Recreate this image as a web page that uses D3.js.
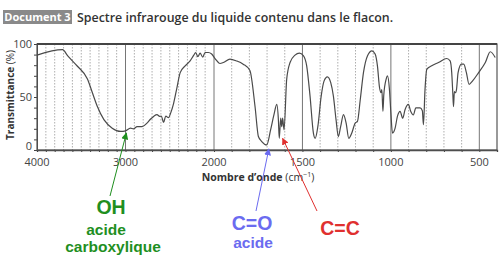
<!DOCTYPE html>
<html>
<head>
<meta charset="utf-8">
<script src="https://cdn.jsdelivr.net/npm/d3@7/dist/d3.min.js"></script>
<style>
  body { margin: 0; background: #fff; }
  svg { display: block; }
</style>
</head>
<body>
<svg id="spectre"></svg>
<script>
// spectre IR : nombre d'onde (cm-1) / transmittance (%)
var waves = [4000,3711,3655,3543,3430,3374,3318,3244,3150,3056,3000,2944,2910,2869,2813,2757,2719,2682,2644,2614,2595,2570,2545,2515,2487,2457,2419,2382,2326,2270,2232,2206,2183,2157,2127,2101,2064,2026,1994,1966,1947,1910,1872,1835,1797,1768,1749,1730,1702,1680,1661,1645,1636,1631,1623,1617,1612,1604,1589,1570,1542,1517,1495,1476,1457,1438,1428,1413,1394,1378,1359,1340,1325,1310,1297,1284,1268,1253,1238,1221,1202,1189,1173,1155,1132,1107,1089,1076,1064,1056,1051,1045,1040,1027,1019,1008,1000,991,976,963,948,933,920,901,888,873,859,835,822,816,807,797,769,731,684,665,656,650,646,641,635,629,620,601,588,573,558,539,504,466,438,410];
var trans = [89.5,94.6,89,79,67,54,41,28.6,20.6,17.5,18,20.6,20,22,22,25.4,29,31.7,33.3,31.7,32,26,32,30.5,35.5,43.8,58.7,73,79.4,84,89,92,88,91.4,87.6,92,92,90.5,86.3,81.6,82.5,85.7,84,81,75,41,12.7,8,4.8,19,33.3,43,28.6,11,30,22,30,19,66.7,82.5,89.5,91.4,89,79.4,50.8,15.9,11,22,50.8,65,69,63.5,50.8,28.6,12.7,22,33.3,25.4,11,16,25.4,27,47.6,73,89,93.6,90.5,79.4,58.7,54,57,36.5,52,66.7,70,57,35,16,20.6,31.7,36.5,30,38,43,36.5,33,39.7,39.7,37,23.8,57,76,79.4,82.5,86.3,84,73,54,41,55,54,57,73,81,81,73,62,65,73,82.5,92.7,87.3];

var xTickLabels = [4000, 3000, 2000, 1500, 1000, 500];
var yTickLabels = [0, 50, 100];

// annotations : texte, nombre d'onde pointe, transmittance pointee
var annotLabels = ["OH", "C=O", "C=C"];
var annotSub = [["acide", "carboxylique"], ["acide"], []];
var annotWave = [2990, 1690, 1612];
var annotTrans = [16, 1, 11];

var W = 503, H = 263;
var plot = {left: 37, right: 497, top: 44, bottom: 150};

var svg = d3.select("#spectre").attr("width", W).attr("height", H);

// echelle en deux parties (changement a 2000 cm-1)
var xScale = d3.scaleLinear()
  .domain([4000, 2000, 400])
  .range([plot.left, 214, plot.right]);
var yScale = d3.scaleLinear()
  .domain([0, 100])
  .range([plot.bottom, plot.top]);

// titre
svg.append("rect")
  .attr("x", 3).attr("y", 10).attr("width", 69).attr("height", 14)
  .attr("fill", "#8a8a8a");
svg.append("text")
  .attr("x", 37.5).attr("y", 21)
  .attr("text-anchor", "middle")
  .attr("font-family", "Open Sans").attr("font-weight", 700)
  .attr("font-size", 11).attr("fill", "#fff")
  .text("Document 3");
svg.append("text")
  .attr("x", 77).attr("y", 22)
  .attr("font-family", "Open Sans").attr("font-weight", 600)
  .attr("font-size", 12.4).attr("fill", "#333")
  .text("Spectre infrarouge du liquide contenu dans le flacon.");

// grille verticale
var gridWaves = d3.range(3900, 400, -100);
var isMain = function(d){ return d % 1000 == 0 || (d < 2000 && d % 500 == 0); };
svg.append("g").selectAll("line")
  .data(gridWaves)
  .enter()
  .append("line")
  .attr("x1", function(d){ return xScale(d); })
  .attr("x2", function(d){ return xScale(d); })
  .attr("y1", plot.top).attr("y2", plot.bottom)
  .attr("stroke", function(d){ return isMain(d) ? "#666" : "#999"; })
  .attr("stroke-width", function(d){ return isMain(d) ? 0.9 : 0.8; })
  .attr("stroke-dasharray", function(d){ return isMain(d) ? null : "1.5,1.5"; });

// axes
var xAxis = d3.axisBottom(xScale)
  .tickValues(d3.range(4000, 399, -100))
  .tickSize(2)
  .tickFormat("");
svg.append("g")
  .attr("transform", "translate(0," + plot.bottom + ")")
  .call(xAxis)
  .call(function(g){ g.select(".domain").attr("stroke", "#444").attr("stroke-width", 1.3); g.selectAll(".tick line").attr("stroke", "#444"); });

var yAxis = d3.axisLeft(yScale)
  .tickValues(d3.range(0, 101, 10))
  .tickSize(3)
  .tickFormat("");
svg.append("g")
  .attr("transform", "translate(" + plot.left + ",0)")
  .call(yAxis)
  .call(function(g){ g.select(".domain").attr("stroke", "#444"); g.selectAll(".tick line").attr("stroke", "#444"); });

// cadre
svg.append("rect")
  .attr("x", plot.left).attr("y", plot.top)
  .attr("width", plot.right - plot.left).attr("height", plot.bottom - plot.top)
  .attr("fill", "none").attr("stroke", "#555").attr("stroke-width", 1.2);
svg.append("line")
  .attr("x1", plot.left).attr("x2", plot.right)
  .attr("y1", plot.top).attr("y2", plot.top)
  .attr("stroke", "#444").attr("stroke-width", 1.8);

// etiquettes des axes
svg.append("g").selectAll("text")
  .data(xTickLabels)
  .enter()
  .append("text")
  .attr("x", function(d){ return xScale(d); })
  .attr("y", 166)
  .attr("text-anchor", "middle")
  .attr("font-family", "Open Sans").attr("font-size", 11).attr("fill", "#444")
  .text(function(d){ return d; });

svg.append("g").selectAll("text")
  .data(yTickLabels)
  .enter()
  .append("text")
  .attr("x", 32)
  .attr("y", function(d){ return yScale(d) + (d == 0 ? -0.5 : 4); })
  .attr("text-anchor", "end")
  .attr("font-family", "Open Sans").attr("font-size", 11).attr("fill", "#444")
  .text(function(d){ return d; });

var yTitle = svg.append("text")
  .attr("transform", "translate(14,95) rotate(-90)")
  .attr("text-anchor", "middle")
  .attr("font-family", "Open Sans").attr("font-size", 10).attr("fill", "#333");
yTitle.append("tspan").attr("font-weight", 700).text("Transmittance");
yTitle.append("tspan").text(" (%)");

var xTitle = svg.append("text")
  .attr("x", 258).attr("y", 180.5)
  .attr("text-anchor", "middle")
  .attr("font-family", "Open Sans").attr("font-size", 10.5).attr("fill", "#333");
xTitle.append("tspan").attr("font-weight", 700).text("Nombre d\u2019onde");
xTitle.append("tspan").text(" (cm");
xTitle.append("tspan").attr("font-size", 7).attr("dy", -4).text("\u22121");
xTitle.append("tspan").attr("dy", 4).text(")");

// courbe
var points = waves.map(function(w, i){ return [w, trans[i]]; });
var line = d3.line()
  .x(function(d){ return xScale(d[0]); })
  .y(function(d){ return yScale(d[1]); })
  .curve(d3.curveMonotoneX);
svg.append("path")
  .datum(points)
  .attr("d", line)
  .attr("fill", "none")
  .attr("stroke", "#4a4a4a")
  .attr("stroke-width", 1.2);

// fleches et textes
var colors = ["#1f8f1f", "#6b6bf0", "#e0302f"];
var textPos = [[111, 214], [252, 230], [340, 235]];
var subPos = [[[106, 235], [113, 252]], [[253, 248]], []];
var lineStart = [[110, 196], [256, 211], [317, 211]];

var defs = svg.append("defs");
colors.forEach(function(c, i){
  defs.append("marker")
    .attr("id", "fl" + i)
    .attr("viewBox", "0 0 10 10")
    .attr("refX", 9).attr("refY", 5)
    .attr("markerWidth", 7).attr("markerHeight", 7)
    .attr("markerUnits", "userSpaceOnUse")
    .attr("orient", "auto")
    .append("path")
    .attr("d", "M0,0L10,5L0,10z")
    .attr("fill", c);
});

annotLabels.forEach(function(lab, i){
  svg.append("line")
    .attr("x1", lineStart[i][0]).attr("y1", lineStart[i][1])
    .attr("x2", xScale(annotWave[i])).attr("y2", yScale(annotTrans[i]))
    .attr("stroke", colors[i]).attr("stroke-width", 1)
    .attr("marker-end", "url(#fl" + i + ")");
  svg.append("text")
    .attr("x", textPos[i][0]).attr("y", textPos[i][1])
    .attr("text-anchor", "middle")
    .attr("font-family", "Liberation Sans").attr("font-weight", 700)
    .attr("font-size", 19.5).attr("fill", colors[i])
    .text(lab);
  annotSub[i].forEach(function(s, j){
    svg.append("text")
      .attr("x", subPos[i][j][0]).attr("y", subPos[i][j][1])
      .attr("text-anchor", "middle")
      .attr("font-family", "Liberation Sans").attr("font-weight", 700)
      .attr("font-size", 15.5).attr("fill", colors[i])
      .text(s);
  });
});
</script>
</body>
</html>
